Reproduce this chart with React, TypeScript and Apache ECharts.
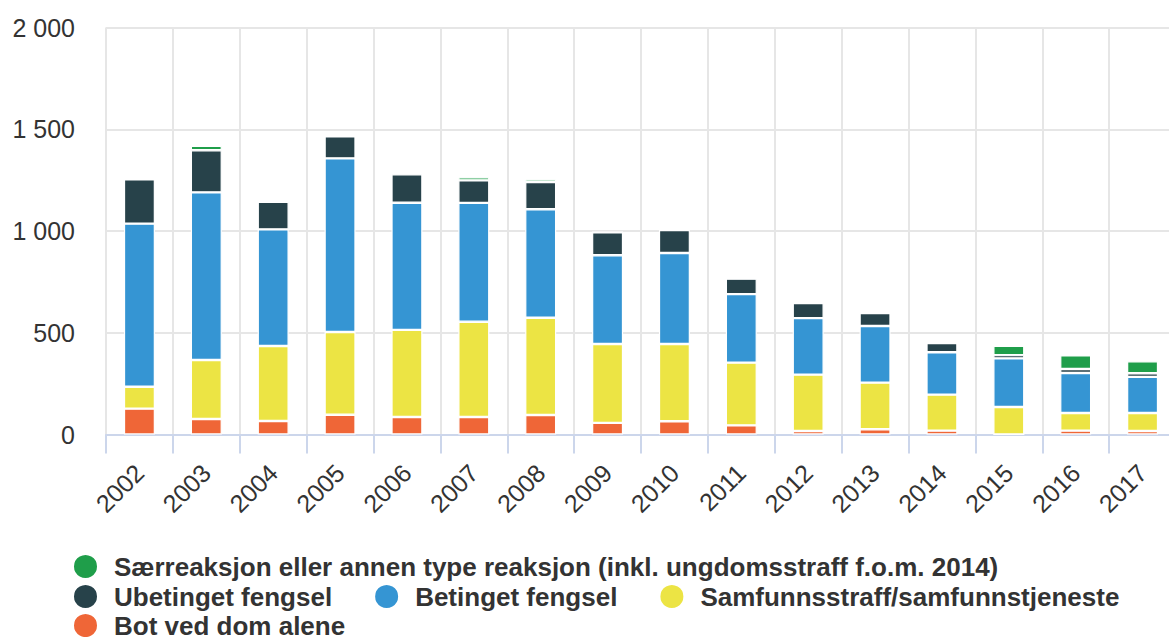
import React, { useEffect, useRef } from "react";
import * as echarts from "echarts";

const categories = ["2002", "2003", "2004", "2005", "2006", "2007", "2008", "2009", "2010", "2011", "2012", "2013", "2014", "2015", "2016", "2017"];

const seriesNames = {
  green: "Særreaksjon eller annen type reaksjon (inkl. ungdomsstraff f.o.m. 2014)",
  dark: "Ubetinget fengsel",
  blue: "Betinget fengsel",
  yellow: "Samfunnsstraff/samfunnstjeneste",
  orange: "Bot ved dom alene",
};

const botVedDom = [127, 76, 66, 97, 86, 86, 96, 57, 65, 45, 17, 26, 19, 0, 19, 17];
const samfunnsstraff = [108, 290, 369, 407, 428, 468, 478, 388, 380, 308, 277, 229, 177, 135, 87, 89];
const betinget = [801, 824, 573, 853, 625, 584, 533, 436, 447, 337, 278, 278, 208, 239, 196, 177];
const ubetinget = [218, 207, 136, 108, 140, 111, 134, 113, 113, 76, 74, 64, 46, 16, 20, 18];
const saerreaksjon = [0, 22, 0, 12, 12, 15, 13, 0, 0, 0, 0, 0, 0, 46, 67, 59];

const yTicks = [0, 500, 1000, 1500, 2000];

const colors = {
  green: "#1f9e4a",
  dark: "#27424a",
  blue: "#3595d3",
  yellow: "#ece444",
  orange: "#ef6637",
};

const fmt = (v: number) => String(v).replace(/\B(?=(\d{3})+(?!\d))/g, " ");

export default function App() {
  const ref = useRef<HTMLDivElement>(null);
  useEffect(() => {
    if (!ref.current) return;
    const chart = echarts.init(ref.current, undefined, { renderer: "svg" });
    const font = "'Liberation Sans', Arial, Helvetica, sans-serif";
    const mk = (key: keyof typeof colors, data: number[]) => ({
      name: seriesNames[key],
      type: "bar",
      stack: "total",
      barWidth: 31,
      data,
      itemStyle: { color: colors[key], borderColor: "#fff", borderWidth: 1.2 },
    });
    const legendBase = {
      icon: "circle",
      itemWidth: 47,
      itemHeight: 25,
      itemGap: 41,
      padding: 0,
      left: 72,
      selectedMode: false,
      textStyle: { fontSize: 26, lineHeight: 24, fontWeight: "bold", color: "#333", fontFamily: font },
    };
    chart.setOption({
      animation: false,
      textStyle: { fontFamily: font },
      grid: { left: 106, right: 0, top: 27.5, bottom: 202.5, containLabel: false },
      legend: [
        { ...legendBase, top: 553, data: [seriesNames.green] },
        { ...legendBase, top: 583, data: [seriesNames.dark, seriesNames.blue, seriesNames.yellow] },
        { ...legendBase, top: 612, data: [seriesNames.orange] },
      ],
      xAxis: {
        type: "category",
        data: categories,
        boundaryGap: true,
        axisLine: { show: true, lineStyle: { color: "#ccd6eb", width: 2 } },
        axisTick: { show: true, length: 19, lineStyle: { color: "#ccd6eb", width: 2 } },
        splitLine: { show: true, lineStyle: { color: "#e6e6e6", width: 2 } },
        axisLabel: { rotate: 45, fontSize: 25, color: "#333", margin: 34, fontFamily: font },
      },
      yAxis: {
        type: "value",
        min: yTicks[0],
        max: yTicks[yTicks.length - 1],
        interval: 500,
        axisLine: { show: false },
        axisTick: { show: false },
        splitLine: { show: true, lineStyle: { color: "#e6e6e6", width: 2 } },
        axisLabel: { fontSize: 25, color: "#333", margin: 31, fontFamily: font, formatter: (v: number) => fmt(v) },
      },
      series: [
        mk("orange", botVedDom),
        mk("yellow", samfunnsstraff),
        mk("blue", betinget),
        mk("dark", ubetinget),
        mk("green", saerreaksjon),
      ],
    });
    return () => chart.dispose();
  }, []);
  return (
    <div
      ref={ref}
      style={{ position: "fixed", left: 0, top: 0, width: 1176, height: 637, background: "#fff" }}
    />
  );
}
